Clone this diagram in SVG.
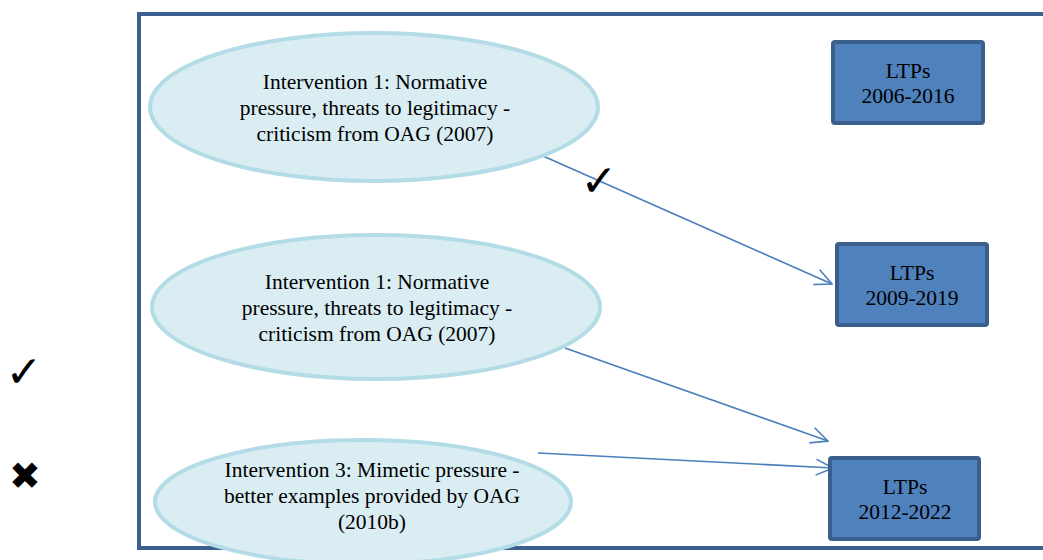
<svg xmlns="http://www.w3.org/2000/svg" width="1043" height="560" viewBox="0 0 1043 560">
<defs>
<style>
.ell{fill:#daedf3;stroke:#b4dce7;stroke-width:4}
.box{fill:#4f81bd;stroke:#3a5f8c;stroke-width:4}
.t{font-family:"Liberation Serif","Times New Roman",serif;font-size:21.5px;fill:#000;text-anchor:middle}
.con{stroke:#4a7ebb;stroke-width:1.6;fill:none;marker-end:url(#arr)}
.mark{font-family:"DejaVu Sans",sans-serif;fill:#000;text-anchor:middle}
</style>
<marker id="arr" viewBox="0 0 20 20" refX="19" refY="10" markerWidth="20" markerHeight="20" markerUnits="userSpaceOnUse" orient="auto">
<path d="M2,2 L19,10 L2,18" fill="none" stroke="#4a7ebb" stroke-width="1.6"/>
</marker>
</defs>
<rect x="0" y="0" width="1043" height="560" fill="#fff"/>
<rect id="frame" x="139" y="14" width="920" height="534" fill="none" stroke="#3c5f8f" stroke-width="4"/>
<g id="connectors">
<line class="con" x1="543" y1="156" x2="832" y2="284"/>
<line class="con" x1="565" y1="348" x2="828" y2="441"/>
<line class="con" x1="538" y1="453" x2="833" y2="468"/>
</g>
<g id="n1">
<ellipse class="ell" cx="374" cy="107" rx="224" ry="74"/>
<text class="t" x="375" y="89">Intervention 1: Normative</text>
<text class="t" x="375" y="115">pressure, threats to legitimacy -</text>
<text class="t" x="375" y="141">criticism from OAG (2007)</text>
</g>
<g id="n2">
<ellipse class="ell" cx="376" cy="307" rx="224" ry="72"/>
<text class="t" x="377" y="289">Intervention 1: Normative</text>
<text class="t" x="377" y="315">pressure, threats to legitimacy -</text>
<text class="t" x="377" y="341">criticism from OAG (2007)</text>
</g>
<g id="n3">
<ellipse class="ell" cx="363" cy="502" rx="208" ry="62"/>
<text class="t" x="372" y="477">Intervention 3: Mimetic pressure -</text>
<text class="t" x="372" y="503">better examples provided by OAG</text>
<text class="t" x="372" y="529">(2010b)</text>
</g>
<g id="b1">
<rect class="box" x="833" y="42" width="150" height="81" rx="2"/>
<text class="t" x="908" y="78">LTPs</text>
<text class="t" x="908" y="103">2006-2016</text>
</g>
<g id="b2">
<rect class="box" x="837" y="244" width="150" height="81" rx="2"/>
<text class="t" x="912" y="280">LTPs</text>
<text class="t" x="912" y="305">2009-2019</text>
</g>
<g id="b3">
<rect class="box" x="830" y="458" width="149" height="81" rx="2"/>
<text class="t" x="905" y="494">LTPs</text>
<text class="t" x="905" y="519">2012-2022</text>
</g>
<g id="marks">
<text class="mark" x="599" y="196" font-size="44">✓</text>
<text class="mark" x="24" y="387" font-size="44">✓</text>
<text class="mark" x="25" y="489" font-size="38">✖</text>
</g>
</svg>
